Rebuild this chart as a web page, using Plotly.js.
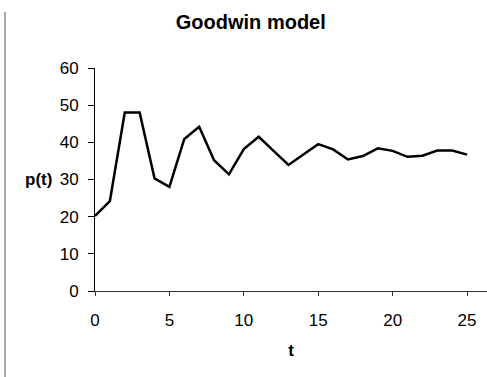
<!DOCTYPE html>
<html>
<head>
<meta charset="utf-8">
<script src="https://cdn.plot.ly/plotly-3.0.1.min.js"></script>
<style>html,body{margin:0;padding:0;background:#fff;}#chart{width:487px;height:377px;}</style>
</head>
<body>
<div id="chart"></div>
<script>
const t = [0,1,2,3,4,5,6,7,8,9,10,11,12,13,14,15,16,17,18,19,20,21,22,23,24,25];
const p = [20.2,24.2,48.0,48.0,30.3,28.0,40.9,44.2,35.2,31.4,38.2,41.5,37.7,33.9,36.7,39.5,38.1,35.4,36.3,38.4,37.7,36.1,36.4,37.8,37.8,36.7];
const xTicks = [0,5,10,15,20,25];
const yTicks = [0,10,20,30,40,50,60];
const chartTitle = "Goodwin model";
const xLabel = "t";
const yLabel = "p(t)";

const font = "Liberation Sans, Arial, sans-serif";

const trace = {
  x: t, y: p, type: "scatter", mode: "lines",
  line: {color: "#000", width: 2.5},
  hoverinfo: "skip"
};

const layout = {
  width: 487, height: 377,
  margin: {l: 95, r: 0, t: 68, b: 86},
  paper_bgcolor: "#fff", plot_bgcolor: "#fff",
  showlegend: false,
  font: {family: font, color: "#000", size: 17},
  title: {
    text: "<b>" + chartTitle + "</b>",
    font: {family: font, size: 20, color: "#000"},
    x: 0.515, xanchor: "center", xref: "container",
    y: 0.942, yanchor: "middle", yref: "container"
  },
  xaxis: {
    range: [0, 26.34],
    tickvals: xTicks, ticktext: xTicks.map(String),
    showgrid: false, zeroline: false,
    showline: true, linecolor: "#333", linewidth: 1,
    ticks: "outside", ticklen: 4, tickcolor: "#333", tickwidth: 1,
    ticklabelstandoff: 10,
    tickfont: {family: font, size: 17, color: "#000"},
    title: {text: "<b>" + xLabel + "</b>", font: {family: font, size: 17, color: "#000"}, standoff: 14}
  },
  yaxis: {
    range: [0, 60],
    tickvals: yTicks, ticktext: yTicks.map(String),
    showgrid: false, zeroline: false,
    showline: true, linecolor: "#000", linewidth: 1,
    ticks: "outside", ticklen: 6, tickcolor: "#000", tickwidth: 1,
    ticklabelstandoff: 6,
    tickfont: {family: font, size: 17, color: "#000"}
  },
  annotations: [{
    text: "<b>" + yLabel + "</b>",
    xref: "paper", yref: "paper",
    x: -0.1454, y: 0.498, xanchor: "center", yanchor: "middle",
    showarrow: false,
    font: {family: font, size: 17, color: "#000"}
  }],
  shapes: [{
    type: "line", xref: "paper", yref: "paper",
    x0: -0.2296, x1: -0.2296, y0: 1.251, y1: -0.39,
    line: {color: "#555", width: 1}
  }]
};

Plotly.newPlot("chart", [trace], layout, {displayModeBar: false, staticPlot: true});
</script>
</body>
</html>
